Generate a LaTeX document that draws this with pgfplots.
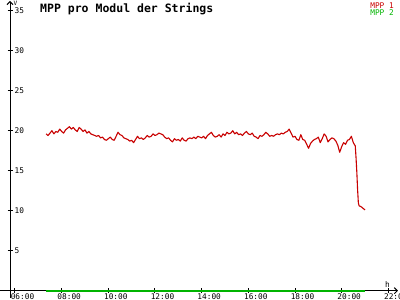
\documentclass[border=0pt]{standalone}
\usepackage{pgfplots}
\pgfplotsset{compat=1.18}
\usepackage{pgfplotstable}
\usetikzlibrary{arrows.meta}
\usepackage{fontspec}
\setmonofont{DejaVu Sans Mono}
\definecolor{mppred}{RGB}{200,0,0}
\definecolor{mppgreen}{RGB}{0,180,0}
\pgfplotstableread{
m v
440 19.6
445 19.4
450 19.7
455 20.0
460 19.6
465 19.9
470 19.8
475 20.2
480 19.9
485 19.7
490 20.1
495 20.3
500 20.5
505 20.2
510 20.4
515 20.1
520 19.9
525 20.4
530 20.2
535 19.9
540 20.1
545 19.7
550 19.9
555 19.6
560 19.5
565 19.4
570 19.3
575 19.4
580 19.1
585 19.2
590 18.9
595 18.8
600 19.0
605 19.2
610 18.9
615 18.8
620 19.3
625 19.8
630 19.5
635 19.4
640 19.1
645 19.0
650 18.9
655 18.7
660 18.8
665 18.5
670 18.9
675 19.3
680 19.0
685 19.1
690 18.9
695 19.1
700 19.4
705 19.2
710 19.3
715 19.6
720 19.4
725 19.5
730 19.7
735 19.6
740 19.5
745 19.2
750 19.0
755 19.1
760 18.8
765 18.6
770 19.0
775 18.8
780 18.9
785 18.7
790 19.1
795 18.8
800 18.7
805 19.0
810 19.1
815 19.0
820 19.2
825 19.0
830 19.3
835 19.2
840 19.1
845 19.3
850 19.0
855 19.4
860 19.6
865 19.8
870 19.4
875 19.2
880 19.3
885 19.5
890 19.2
895 19.6
900 19.4
905 19.8
910 19.6
915 19.7
920 20.0
925 19.6
930 19.8
935 19.5
940 19.6
945 19.4
950 19.7
955 19.9
960 19.6
965 19.5
970 19.7
975 19.3
980 19.2
985 19.0
990 19.4
995 19.3
1000 19.5
1005 19.8
1010 19.6
1015 19.3
1020 19.4
1025 19.3
1030 19.5
1035 19.6
1040 19.5
1045 19.7
1050 19.6
1055 19.8
1060 19.9
1065 20.2
1070 19.7
1075 19.2
1080 19.3
1085 18.9
1090 18.8
1095 19.5
1100 18.9
1105 18.8
1110 18.3
1115 17.8
1120 18.4
1125 18.7
1130 18.9
1135 19.0
1140 19.2
1145 18.5
1150 19.0
1155 19.6
1160 19.3
1165 18.6
1170 18.9
1175 19.1
1180 19.0
1185 18.7
1190 18.2
1195 17.3
1200 18.0
1205 18.5
1210 18.3
1215 18.8
1220 18.9
1225 19.3
1230 18.5
1235 18.1
1237 16.6
1239 14.8
1241 12.6
1243 11.0
1245 10.6
1250 10.5
1255 10.3
1260 10.1
}\mppone
\pgfplotstableread{
m v
440 0
1260 0
}\mpptwo
\begin{document}
\begin{tikzpicture}[x=1pt,y=1pt]
\useasboundingbox (0,0) rectangle (400,300);
\begin{axis}[
  at={(10pt,2pt)}, anchor=south west,
  scale only axis, width=388pt, height=297pt,
  xmin=5.786, xmax=22.414, ymin=-0.9125, ymax=36.21,
  axis x line=middle, axis y line=left,
  axis line style={line width=1pt, black, -{Straight Barb[length=3pt,width=6pt]}},
  clip=false,
  xtick={6,8,...,22},
  xticklabels={06:00,08:00,10:00,12:00,14:00,16:00,18:00,20:00,22:00},
  ytick={5,10,...,35},
  tick align=center, major tick length=5pt,
  tick style={black, line width=1pt},
  /pgf/number format/assume math mode=true,
  tick label style={font=\ttfamily\fontsize{7.8}{8}\selectfont},
  xticklabel style={anchor=north, xshift=7.5pt, yshift=1pt, inner sep=1pt},
  yticklabel style={anchor=west, xshift=7pt, inner sep=0pt},
]
\addplot[mppgreen, line width=1.8pt] table[x expr=\thisrow{m}/60, y=v] {\mpptwo};
\addplot[mppred, line width=1.1pt, line join=round] table[x expr=\thisrow{m}/60, y=v] {\mppone};
\draw[line width=1pt] (axis cs:5.357,0) -- (axis cs:5.786,0);
\end{axis}
\node[anchor=north west, inner sep=0pt, font=\ttfamily\bfseries\fontsize{11.5}{12}\selectfont] at (40,297) {MPP pro Modul der Strings};
\node[anchor=north east, inner sep=0pt, text=mppred, font=\ttfamily\fontsize{7.8}{8}\selectfont] at (394,297) {MPP 1};
\node[anchor=north east, inner sep=0pt, text=mppgreen, font=\ttfamily\fontsize{7.8}{8}\selectfont] at (394,290) {MPP 2};
\node[anchor=north west, inner sep=0pt, font=\ttfamily\fontsize{6}{6}\selectfont] at (13.5,299.5) {V};
\node[anchor=south west, inner sep=0pt, font=\ttfamily\fontsize{7.8}{8}\selectfont] at (385,12) {h};
\end{tikzpicture}
\end{document}
